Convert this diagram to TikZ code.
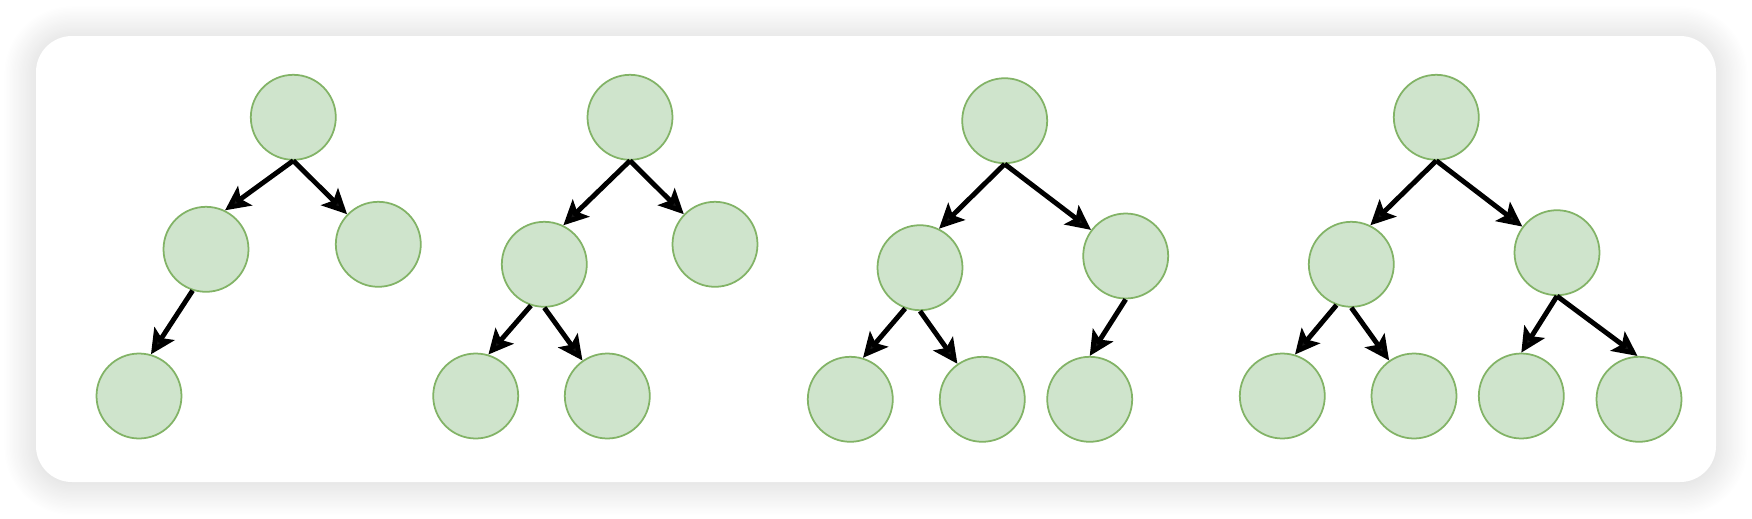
\documentclass[tikz,border=0pt]{standalone}
\usetikzlibrary{arrows.meta,shadows.blur}
\definecolor{vertfill}{HTML}{CFE4CC}
\definecolor{vertdraw}{HTML}{82B366}
\begin{document}
\begin{tikzpicture}[x=0.02cm, y=-0.02cm,
  vert/.style={circle, draw=vertdraw, fill=vertfill, line width=1pt, minimum size=1.7cm, inner sep=0pt},
  edge/.style={line width=2.8pt, -{Stealth[length=14pt, width=13.5pt, inset=3pt]}}]
\useasboundingbox (0,0) rectangle (1752,518);
\fill [white, rounded corners=0.72cm, blur shadow={shadow xshift=0pt, shadow yshift=-1pt, shadow blur radius=0.65cm, shadow blur steps=50, shadow opacity=18}] (36,36) rectangle (1716,482);
\node [vert] (a0) at (293.3,117.3) {};
\node [vert] (a1) at (206,249.3) {};
\node [vert] (a2) at (378.3,244.3) {};
\node [vert] (a3) at (139,396) {};
\draw [edge] (a0.south) -- (a1.64);
\draw [edge] (a0.south) -- (a2.136);
\draw [edge] (a1.252) -- (a3.74);
\node [vert] (b0) at (630,117.3) {};
\node [vert] (b1) at (544.3,264.3) {};
\node [vert] (b2) at (715,244.3) {};
\node [vert] (b3) at (475.7,396) {};
\node [vert] (b4) at (607.3,396) {};
\draw [edge] (b0.south) -- (b1.64);
\draw [edge] (b0.south) -- (b2.136);
\draw [edge] (b1.252) -- (b3.73);
\draw [edge] (b1.south) -- (b4.125);
\node [vert] (c0) at (1004.7,120.7) {};
\node [vert] (c1) at (920,267.7) {};
\node [vert] (c2) at (1125.7,256) {};
\node [vert] (c3) at (850.3,399.3) {};
\node [vert] (c4) at (982.3,399.3) {};
\node [vert] (c5) at (1089.7,399.3) {};
\draw [edge] (c0.south) -- (c1.64);
\draw [edge] (c0.south) -- (c2.143);
\draw [edge] (c1.250) -- (c3.73);
\draw [edge] (c1.south) -- (c4.125);
\draw [edge] (c2.south) -- (c5.north);
\node [vert] (d0) at (1436.3,117.3) {};
\node [vert] (d1) at (1351.3,264.3) {};
\node [vert] (d2) at (1557,252.7) {};
\node [vert] (d3) at (1282.3,396) {};
\node [vert] (d4) at (1414,396) {};
\node [vert] (d5) at (1521.3,396) {};
\node [vert] (d6) at (1639,399.3) {};
\draw [edge] (d0.south) -- (d1.64);
\draw [edge] (d0.south) -- (d2.143);
\draw [edge] (d1.250) -- (d3.73);
\draw [edge] (d1.south) -- (d4.125);
\draw [edge] (d2.south) -- (d5.north);
\draw [edge] (d2.south) -- (d6.92);
\end{tikzpicture}
\end{document}
